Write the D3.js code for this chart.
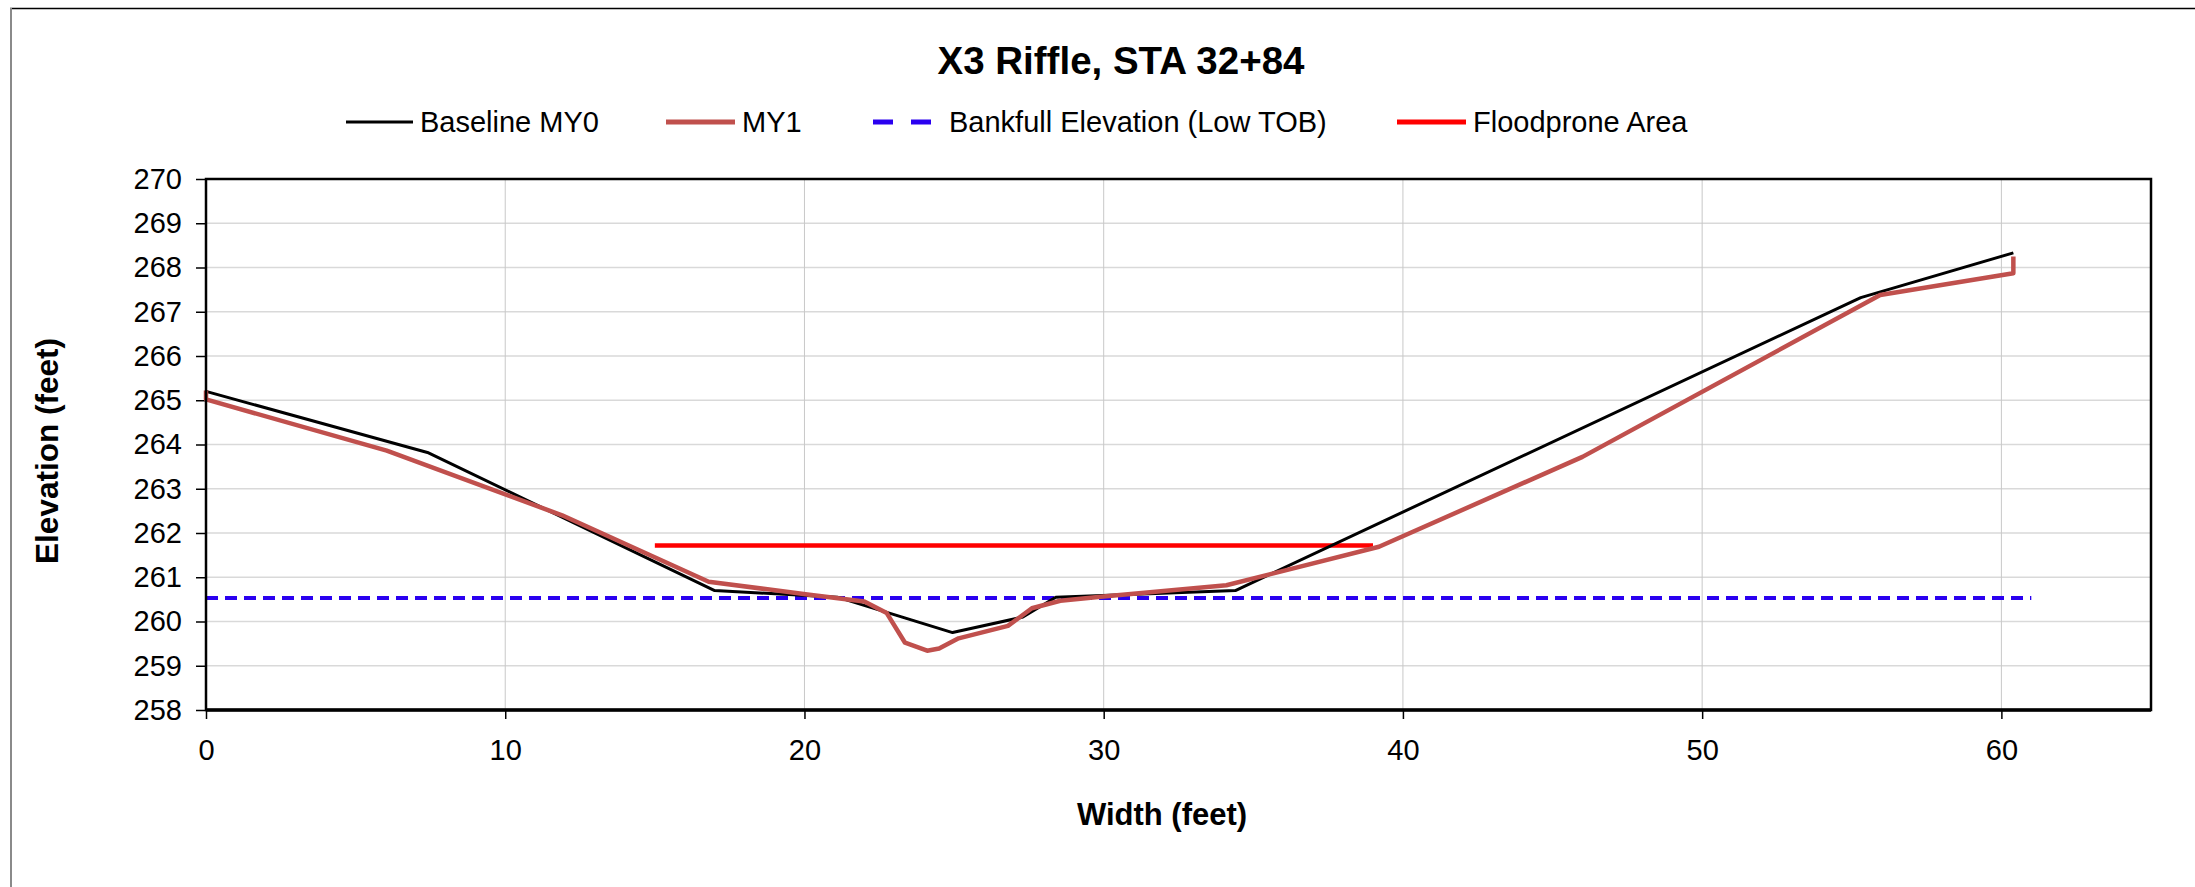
<!DOCTYPE html>
<html>
<head>
<meta charset="utf-8">
<script src="https://cdn.jsdelivr.net/npm/d3@7"></script>
<style>
  html, body { margin: 0; padding: 0; background: #ffffff; }
  svg { display: block; }
  text { font-family: "Liberation Sans", Arial, sans-serif; fill: #000; }
</style>
</head>
<body>
<svg id="chart" width="2195" height="887"></svg>
<script>
// ---- data ----
const titleText = "X3 Riffle, STA 32+84";
const seriesNames = ["Baseline MY0", "MY1", "Bankfull Elevation (Low TOB)", "Floodprone Area"];

const baselineX = [0, 7.4, 17.0, 21.1, 24.95, 27.3, 28.4, 34.4, 55.3, 60.4];
const baselineY = [265.2, 263.82, 260.7, 260.55, 259.75, 260.1, 260.55, 260.7, 267.32, 268.33];

const my1X = [0, 0, 6.04, 11.9, 16.8, 20.1, 22.0, 22.75, 23.36, 24.1, 24.5, 25.15, 26.8, 27.6, 28.55, 29.9, 34.1, 39.2, 46.0, 55.95, 60.4, 60.4];
const my1Y = [265.22, 265.02, 263.86, 262.4, 260.9, 260.61, 260.45, 260.19, 259.52, 259.34, 259.39, 259.62, 259.9, 260.3, 260.47, 260.56, 260.82, 261.69, 263.72, 267.38, 267.87, 268.25];

const bankfullX = [0, 61];
const bankfullY = [260.53, 260.53];

const floodX = [15, 39];
const floodY = [261.72, 261.72];

const xTicks = [0, 10, 20, 30, 40, 50, 60];
const yTicks = [258, 259, 260, 261, 262, 263, 264, 265, 266, 267, 268, 269, 270];
const xDomain = [0, 65];
const yDomain = [258, 270];

// ---- layout ----
const svg = d3.select("#chart");
const L = 206, R = 2151, T = 179, B = 710;

const x = d3.scaleLinear().domain(xDomain).range([L, R]);
const y = d3.scaleLinear().domain(yDomain).range([B, T]);

// outer frame
svg.append("line").attr("x1", 10).attr("x2", 2195).attr("y1", 8.5).attr("y2", 8.5)
  .attr("stroke", "#000").attr("stroke-width", 1.5);
svg.append("line").attr("x1", 11).attr("x2", 11).attr("y1", 8).attr("y2", 887)
  .attr("stroke", "#8a8a8a").attr("stroke-width", 2);

// title
svg.append("text").attr("x", 1121).attr("y", 74).attr("text-anchor", "middle")
  .attr("font-size", 38.5).attr("font-weight", "bold").text(titleText);

// grid
const grid = svg.append("g");
grid.selectAll("line.h").data(yTicks).enter().append("line")
  .attr("x1", L).attr("x2", R).attr("y1", d => y(d)).attr("y2", d => y(d))
  .attr("stroke", "#d9d9d9").attr("stroke-width", 1.5);
grid.selectAll("line.v").data(xTicks).enter().append("line")
  .attr("x1", d => x(d)).attr("x2", d => x(d)).attr("y1", T).attr("y2", B)
  .attr("stroke", "#c8c8c8").attr("stroke-width", 1);

// axes
const yAxis = d3.axisLeft(y).tickValues(yTicks).tickSize(10).tickPadding(14).tickFormat(d3.format("d"));
const xAxis = d3.axisBottom(x).tickValues(xTicks).tickSize(9).tickPadding(20).tickFormat(d3.format("d"));

const gy = svg.append("g").attr("transform", `translate(${L},0)`).call(yAxis);
const gx = svg.append("g").attr("transform", `translate(0,${B})`).call(xAxis);
[gy, gx].forEach(g => {
  g.select(".domain").remove();
  g.selectAll(".tick line").attr("stroke", "#000").attr("stroke-width", 1.5);
  g.selectAll(".tick text").attr("font-size", 29).attr("font-family", "Liberation Sans, Arial, sans-serif").attr("fill", "#000");
});

// lines
const line = d3.line().x(d => x(d[0])).y(d => y(d[1]));
const zip = (a, b) => a.map((v, i) => [v, b[i]]);

const plot = svg.append("g");
plot.append("path").datum(zip(bankfullX, bankfullY)).attr("d", line)
  .attr("fill", "none").attr("stroke", "#2a00f0").attr("stroke-width", 4)
  .attr("stroke-dasharray", "12,7");
plot.append("path").datum(zip(floodX, floodY)).attr("d", line)
  .attr("fill", "none").attr("stroke", "#ff0000").attr("stroke-width", 4.5);
plot.append("path").datum(zip(baselineX, baselineY)).attr("d", line)
  .attr("fill", "none").attr("stroke", "#000").attr("stroke-width", 3).attr("stroke-linejoin", "round");
plot.append("path").datum(zip(my1X, my1Y)).attr("d", line)
  .attr("fill", "none").attr("stroke", "#c0504d").attr("stroke-width", 4.5).attr("stroke-linejoin", "round");

// plot frame
svg.append("rect").attr("x", L).attr("y", T).attr("width", R - L).attr("height", B - T)
  .attr("fill", "none").attr("stroke", "#000").attr("stroke-width", 2.5);
svg.append("line").attr("x1", L).attr("x2", R).attr("y1", B).attr("y2", B)
  .attr("stroke", "#000").attr("stroke-width", 3.5);

// axis titles
svg.append("text").attr("x", 1162).attr("y", 825).attr("text-anchor", "middle")
  .attr("font-size", 31).attr("font-weight", "bold").text("Width (feet)");
svg.append("text").attr("transform", "translate(58,451) rotate(-90)").attr("text-anchor", "middle")
  .attr("font-size", 31.5).attr("font-weight", "bold").text("Elevation (feet)");

// legend
const legendItems = [
  { name: seriesNames[0], x1: 346, x2: 413, tx: 420, color: "#000", w: 3, dash: null },
  { name: seriesNames[1], x1: 666, x2: 735, tx: 742, color: "#c0504d", w: 5, dash: null },
  { name: seriesNames[2], x1: 873, x2: 932, tx: 949, color: "#2a00f0", w: 5, dash: "20,18" },
  { name: seriesNames[3], x1: 1397, x2: 1466, tx: 1473, color: "#ff0000", w: 5, dash: null }
];
const lg = svg.append("g");
const ly = 122;
legendItems.forEach(it => {
  const ln = lg.append("line").attr("x1", it.x1).attr("x2", it.x2).attr("y1", ly).attr("y2", ly)
    .attr("stroke", it.color).attr("stroke-width", it.w);
  if (it.dash) ln.attr("stroke-dasharray", it.dash);
  lg.append("text").attr("x", it.tx).attr("y", ly).attr("dy", "0.35em")
    .attr("font-size", 29).text(it.name);
});
</script>
</body>
</html>
